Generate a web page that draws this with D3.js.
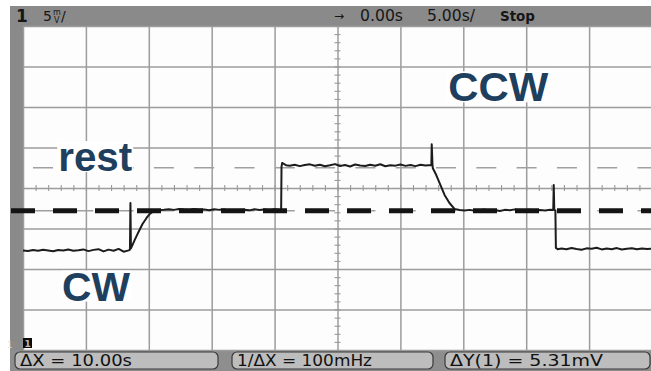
<!DOCTYPE html>
<html>
<head>
<meta charset="utf-8">
<script src="https://cdn.jsdelivr.net/npm/d3@7"></script>
<style>
  html, body { margin: 0; padding: 0; background: #fff; }
  svg { display: block; }
</style>
</head>
<body>
<svg id="scope" width="651" height="371"></svg>
<script>
// Channel 1 capture: time (s) and voltage (mV), 5 s/div, 5 mV/div
const traceTime = [
  -25.0,-24.6,-24.2,-23.8,-23.4,-23.0,-22.6,-22.2,-21.8,-21.4,-21.0,-20.6,-20.2,-19.8,-19.4,-19.0,-18.6,-18.2,-17.8,-17.4,-17.0,-16.6,
  -16.50,-16.46,-16.42,-16.30,-16.10,-15.90,-15.74,-15.50,-15.18,-14.95,-14.71,-14.45,-14.15,
  -13.8,-13.4,-13.0,-12.6,-12.2,-11.8,-11.4,-11.0,-10.6,-10.2,-9.8,-9.4,-9.0,-8.6,-8.2,-7.8,-7.4,-7.0,-6.6,-6.2,-5.8,-5.4,-5.0,-4.6,
  -4.48,-4.45,-4.40,-4.30,-4.10,
  -3.8,-3.4,-3.0,-2.6,-2.2,-1.8,-1.4,-1.0,-0.6,-0.2,0.2,0.6,1.0,1.4,1.8,2.2,2.6,3.0,3.4,3.8,4.2,4.6,5.0,5.4,5.8,6.2,6.6,7.0,7.4,
  7.46,7.49,7.55,7.58,7.85,8.11,8.51,8.90,9.30,9.70,
  10.1,10.5,10.9,11.3,11.7,12.1,12.5,12.9,13.3,13.7,14.1,14.5,14.9,15.3,15.7,16.1,16.5,16.9,
  17.15,17.19,17.23,17.32,17.36,17.50,
  17.8,18.2,18.6,19.0,19.4,19.8,20.2,20.6,21.0,21.4,21.8,22.2,22.6,23.0,23.4,23.8,24.2,24.6,25.0
];
const traceMv = [
  -7.70,-7.78,-7.65,-7.74,-7.62,-7.71,-7.80,-7.66,-7.72,-7.60,-7.75,-7.68,-7.58,-7.79,-7.64,-7.55,-7.83,-7.61,-7.74,-7.52,-7.86,-7.70,
  -7.62,-1.85,-7.45,-7.05,-6.35,-5.70,-5.19,-4.45,-3.70,-3.25,-2.96,-2.80,-2.72,
  -2.68,-2.62,-2.70,-2.58,-2.66,-2.72,-2.60,-2.69,-2.64,-2.75,-2.62,-2.70,-2.66,-2.80,-2.84,-2.72,-2.68,-2.76,-2.63,-2.71,-2.66,-2.74,-2.62,-2.70,
  -2.72,2.60,3.10,3.00,2.82,
  2.76,2.88,2.70,2.84,2.92,2.74,2.86,2.68,2.80,2.95,2.72,2.83,2.66,2.90,2.78,2.71,2.87,2.75,2.93,2.69,2.82,2.76,2.91,2.73,2.85,2.70,2.88,2.78,2.83,
  2.80,5.40,2.90,2.43,1.60,0.62,-0.86,-1.85,-2.59,-2.72,
  -2.78,-2.70,-2.82,-2.74,-2.66,-2.80,-2.72,-2.85,-2.70,-2.76,-2.64,-2.79,-2.73,-2.68,-2.81,-2.71,-2.77,-2.69,
  -2.72,0.37,-2.65,-2.78,-7.40,-7.55,
  -7.48,-7.56,-7.40,-7.52,-7.62,-7.45,-7.50,-7.38,-7.58,-7.47,-7.55,-7.42,-7.60,-7.49,-7.44,-7.57,-7.46,-7.53,-7.50
];

// Y cursors (mV) and the hand-drawn rest reference level
const cursorMv = [-2.80, 2.51];
const restLevelMv = -2.80;

// Screen extent
const timeDomain = [-25, 25];
const voltDomain = [-20, 20];
const timePerDiv = 5;
const voltPerDiv = 5;

// Annotations (baseline position in data units)
const annotationText = ["rest", "CCW", "CW"];
const annotationTime = [-22.2, 8.8, -21.9];
const annotationMv = [2.1, 10.7, -13.9];
const annotationWidth = [74, 100, 68];

// Status line and cursor readouts
const statusText = ["0.00s", "5.00s/", "Stop"];
const readoutDx = "10.00s";
const readoutInvDx = "100mHz";

const svg = d3.select("#scope");
const W = 651, H = 371;
const plot = { left: 23, top: 26, right: 652, bottom: 350 };

const x = d3.scaleLinear().domain(timeDomain).range([plot.left, plot.right]);
const y = d3.scaleLinear().domain(voltDomain).range([plot.bottom, plot.top]);

// Instrument frame
svg.append("rect").attr("x", 10).attr("y", 6).attr("width", W - 10).attr("height", 20).attr("fill", "#8a8a8a");
svg.append("rect").attr("x", 10).attr("y", 6).attr("width", 13).attr("height", 344).attr("fill", "#8a8a8a");
svg.append("rect").attr("x", 10).attr("y", 350).attr("width", W - 10).attr("height", 21).attr("fill", "#8e8e8e");
svg.append("rect").attr("x", plot.left).attr("y", plot.top)
  .attr("width", plot.right - plot.left).attr("height", plot.bottom - plot.top).attr("fill", "#fdfdfd");

// Graticule
const gridX = svg.append("g").attr("transform", `translate(0,${plot.bottom})`)
  .call(d3.axisBottom(x).tickValues(d3.range(timeDomain[0], timeDomain[1] + 0.01, timePerDiv))
    .tickSize(-(plot.bottom - plot.top)).tickFormat(""));
const gridY = svg.append("g").attr("transform", `translate(${plot.left},0)`)
  .call(d3.axisLeft(y).tickValues(d3.range(voltDomain[0], voltDomain[1] + 0.01, voltPerDiv))
    .tickSize(-(plot.right - plot.left)).tickFormat(""));
[gridX, gridY].forEach(g => {
  g.select(".domain").remove();
  g.selectAll("line").attr("stroke", "#9c9c9c").attr("stroke-width", 1.5);
});

// Minor ticks on the centre axes
const minorX = svg.append("g").attr("transform", `translate(0,${y(0) - 3})`)
  .call(d3.axisBottom(x).tickValues(d3.range(timeDomain[0], timeDomain[1] + 0.01, 1)).tickSize(6).tickFormat(""));
const minorY = svg.append("g").attr("transform", `translate(${x(0) + 3},0)`)
  .call(d3.axisLeft(y).tickValues(d3.range(voltDomain[0], voltDomain[1] + 0.01, 1)).tickSize(6).tickFormat(""));
[minorX, minorY].forEach(g => {
  g.select(".domain").remove();
  g.selectAll("line").attr("stroke", "#999").attr("stroke-width", 1.1);
});

// Y cursors
svg.append("g").selectAll("line").data(cursorMv).join("line")
  .attr("x1", 33).attr("x2", plot.right)
  .attr("y1", d => y(d)).attr("y2", d => y(d))
  .attr("stroke", "#a0a0a0").attr("stroke-width", 1.5)
  .attr("stroke-dasharray", "20,20.3");

// Trace
svg.append("clipPath").attr("id", "plotClip").append("rect")
  .attr("x", plot.left).attr("y", plot.top)
  .attr("width", plot.right - plot.left).attr("height", plot.bottom - plot.top);
const trace = traceTime.map((t, i) => ({ t, v: traceMv[i] }));
svg.append("path").datum(trace)
  .attr("clip-path", "url(#plotClip)")
  .attr("fill", "none").attr("stroke", "#1c1c1c").attr("stroke-width", 2)
  .attr("stroke-linejoin", "round")
  .attr("d", d3.line().x(d => x(d.t)).y(d => y(d.v)));

// Rest reference level
svg.append("line")
  .attr("x1", 11).attr("x2", W)
  .attr("y1", y(restLevelMv)).attr("y2", y(restLevelMv))
  .attr("stroke", "#141414").attr("stroke-width", 5)
  .attr("stroke-dasharray", "24,18");

// Annotations
const ann = svg.append("g");
annotationText.forEach((s, i) => {
  const g = ann.append("g");
  const bx = x(annotationTime[i]), by = y(annotationMv[i]);
  g.append("rect").attr("x", bx - 1).attr("y", by - 30).attr("width", annotationWidth[i] + 2).attr("height", 31).attr("fill", "#fff");
  g.append("text").attr("x", bx).attr("y", by)
    .attr("font-family", "'Liberation Sans', Arial, sans-serif")
    .attr("font-weight", "bold").attr("font-size", 40)
    .attr("textLength", annotationWidth[i]).attr("lengthAdjust", "spacingAndGlyphs")
    .attr("fill", "#1f3f5e").text(s);
});

// Status line
const mono = "'DejaVu Sans', sans-serif";
const statusLine = svg.append("g").attr("fill", "#161616").attr("font-family", mono);
statusLine.append("text").attr("x", 16).attr("y", 22).attr("font-size", 17).attr("font-weight", "bold").text("1");
statusLine.append("text").attr("x", 43).attr("y", 21).attr("font-size", 14).text("5");
statusLine.append("text").attr("x", 53).attr("y", 15).attr("font-size", 8).text("m");
statusLine.append("text").attr("x", 54).attr("y", 23).attr("font-size", 8).text("V");
statusLine.append("text").attr("x", 61).attr("y", 21).attr("font-size", 14).text("/");
statusLine.append("text").attr("x", 334).attr("y", 20).attr("font-size", 12).text("→");
statusLine.append("text").attr("x", 360).attr("y", 21).attr("font-size", 15)
  .attr("textLength", 43).attr("lengthAdjust", "spacingAndGlyphs").text(statusText[0]);
statusLine.append("text").attr("x", 427).attr("y", 21).attr("font-size", 15)
  .attr("textLength", 48).attr("lengthAdjust", "spacingAndGlyphs").text(statusText[1]);
statusLine.append("text").attr("x", 500).attr("y", 21).attr("font-size", 14).attr("font-weight", "bold")
  .attr("textLength", 35).attr("lengthAdjust", "spacingAndGlyphs").text(statusText[2]);

// Ground marker
svg.append("text").attr("x", 7).attr("y", 348).attr("font-size", 8).attr("font-family", mono).attr("fill", "#e8e8e8").text("1");
svg.append("rect").attr("x", 23).attr("y", 338).attr("width", 9).attr("height", 10).attr("fill", "#0c0c0c");
svg.append("text").attr("x", 24.5).attr("y", 346.5).attr("font-size", 9).attr("font-weight", "bold")
  .attr("font-family", mono).attr("fill", "#bbb").text("1");

// Cursor readout boxes
const dY = cursorMv[1] - cursorMv[0];
const readouts = [
  { x: 15, w: 203, tx: 20, tw: 112, s: "ΔX = " + readoutDx },
  { x: 232, w: 201, tx: 237, tw: 135, s: "1/ΔX = " + readoutInvDx },
  { x: 445, w: 205, tx: 450, tw: 153, s: "ΔY(1) = " + d3.format(".2f")(dY) + "mV" }
];
const bot = svg.append("g");
readouts.forEach(r => {
  bot.append("rect").attr("x", r.x).attr("y", 352).attr("width", r.w).attr("height", 17).attr("rx", 5)
    .attr("fill", "#bdbdbd").attr("stroke", "#3a3a3a").attr("stroke-width", 1.2);
  bot.append("text").attr("x", r.tx).attr("y", 366).attr("font-family", mono).attr("font-size", 15)
    .attr("fill", "#111").attr("textLength", r.tw).attr("lengthAdjust", "spacingAndGlyphs").text(r.s);
});
</script>
</body>
</html>
